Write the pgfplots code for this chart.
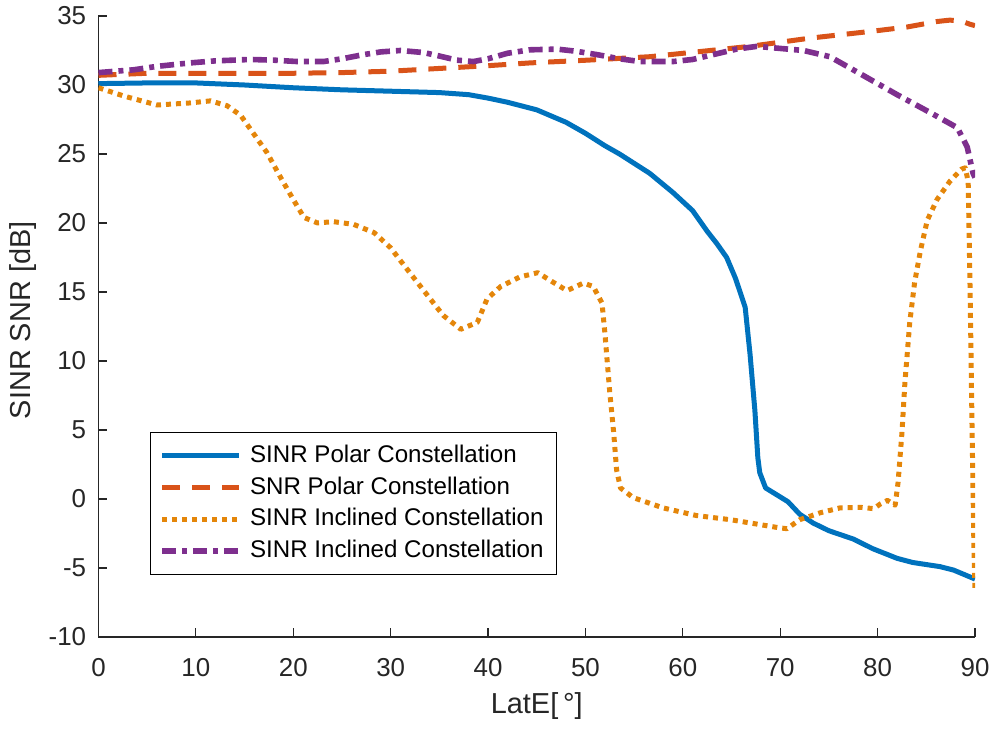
\documentclass[border=0pt]{standalone}
\usepackage{fontspec}
\setmainfont{Liberation Sans}
\usepackage{pgfplots}
\pgfplotsset{compat=1.18}
\usetikzlibrary{calc}
\definecolor{cBlue}{rgb}{0,0.447,0.741}
\definecolor{cRed}{rgb}{0.85,0.325,0.098}
\definecolor{cOrange}{RGB}{228,134,10}
\definecolor{cPurple}{rgb}{0.494,0.184,0.556}
\definecolor{axgray}{rgb}{0.15,0.15,0.15}
\begin{document}
\begin{tikzpicture}
\begin{axis}[
  scale only axis, width=438.25bp, height=310.5bp,
  xmin=0, xmax=90, ymin=-10, ymax=35,
  axis x line*=bottom, axis y line*=left,
  axis line style={-, axgray, line width=0.6bp},
  every tick/.style={axgray, line width=0.6bp},
  tick align=inside, major tick length=4.5bp,
  xtick={0,10,20,30,40,50,60,70,80,90},
  xticklabels={0,10,20,30,40,50,60,70,80,90},
  ytick={-10,-5,0,5,10,15,20,25,30,35},
  yticklabels={-10,-5,0,5,10,15,20,25,30,35},
  tick label style={font=\fontsize{13}{15}\selectfont, text=axgray, inner sep=0pt},
  xticklabel shift=10.5bp, yticklabel shift=6bp,
  xlabel={LatE[\,°]}, ylabel={SINR SNR [dB]},
  label style={font=\fontsize{14.5}{17}\selectfont, text=axgray},
  xlabel style={at={(axis description cs:0.5,-0.111)}, anchor=center},
  ylabel style={at={(axis description cs:-0.0856,0.51)}, anchor=center},
  legend cell align=left,
  legend style={at={(axis description cs:0.0588,0.330)}, anchor=north west,
    draw=black, line width=0.5bp, fill=white,
    font=\fontsize{12.1}{14}\selectfont,
    inner xsep=4.5bp, inner ysep=4.3bp, row sep=1bp,
    nodes={inner sep=2bp, text height=8.8bp, text depth=2bp},
    /tikz/every odd column/.append style={column sep=2bp}},
  legend image code/.code={\draw[#1] (0bp,0bp) -- (38.5bp,0bp);},
]
\addplot[cBlue, line width=2.5bp, line join=round] coordinates {
(0,30.1)(5,30.15)(10,30.15)(15,30.0)(20,29.8)(25,29.65)(30,29.55)(35,29.45)(38,29.3)(40,29.05)(42,28.75)(45,28.2)(48,27.3)(50,26.5)(52,25.6)(53.5,25.0)(56.6,23.6)(59,22.2)(61,20.9)(62.5,19.4)(63.5,18.5)(64.5,17.5)(65.4,16.0)(66.4,13.9)(66.9,10.5)(67.4,6.4)(67.7,3.0)(67.9,1.9)(68.5,0.8)(70,0.15)(70.8,-0.2)(72,-1.1)(73.4,-1.75)(75,-2.3)(77.5,-2.9)(79.5,-3.6)(82,-4.3)(83.6,-4.6)(86.4,-4.9)(87.8,-5.15)(90,-5.8)
};
\addlegendentry{SINR Polar Constellation}
\addplot[cRed, line width=2.5bp, dash pattern=on 9bp off 6bp, line join=round] coordinates {
(0,30.7)(5,30.85)(10,30.85)(15,30.85)(20,30.85)(25,30.9)(30,31.0)(35,31.2)(40,31.4)(44.3,31.6)(50.2,31.8)(56.6,32.05)(62.8,32.5)(66.9,32.8)(73.1,33.4)(79.5,33.9)(83,34.2)(86.1,34.6)(87.4,34.7)(88.5,34.65)(89.5,34.4)(90,34.3)
};
\addlegendentry{SNR Polar Constellation}
\addplot[cOrange, line width=2.5bp, dash pattern=on 2.5bp off 2.5bp, line join=round] coordinates {
(0,29.8)(2.6,29.2)(6,28.55)(9.4,28.7)(11.5,28.85)(13.2,28.5)(14.6,27.8)(15.9,26.5)(17.3,25.1)(18.7,23.3)(20,21.7)(21.1,20.4)(22.5,20.0)(24.1,20.1)(26.2,19.9)(28.3,19.3)(30,18.2)(31.3,17.0)(33.4,15.1)(35.4,13.3)(37.2,12.3)(38.9,12.8)(39.9,14.5)(41.3,15.4)(43.3,16.1)(45.1,16.4)(46.7,15.7)(48.1,15.1)(49.8,15.65)(50.8,15.4)(51.7,14.2)(52.0,12.0)(52.5,7.7)(52.9,4.8)(53.2,2.1)(53.6,0.8)(54.9,0.1)(58,-0.65)(61.4,-1.2)(64.9,-1.5)(68.3,-1.9)(70,-2.1)(70.7,-2.15)(72,-1.5)(74.1,-1.0)(76.1,-0.65)(78.2,-0.6)(79.6,-0.7)(80.3,-0.35)(81,-0.1)(81.8,-0.45)(82.1,1.2)(82.5,4.8)(82.8,8.4)(83.3,12.8)(83.8,15.7)(84.4,18.0)(85.1,20.2)(86.1,21.7)(87.4,23.0)(88.6,23.9)(89.0,24.0)(89.3,23.0)(89.5,15.0)(89.7,5)(89.9,-4)(90,-6.6)
};
\addlegendentry{SINR Inclined Constellation}
\addplot[cPurple, line width=2.8bp, dash pattern=on 7bp off 3bp on 2.5bp off 3bp, line join=round] coordinates {
(0,30.9)(3.6,31.1)(6,31.35)(9.4,31.6)(12,31.75)(15.6,31.85)(18,31.8)(20.4,31.7)(23.1,31.7)(25,31.9)(27.2,32.2)(29,32.4)(31,32.5)(33.4,32.35)(35,32.1)(36.8,31.8)(38.5,31.7)(40,31.9)(42,32.3)(44.3,32.55)(47.1,32.6)(49,32.45)(51.2,32.2)(53.5,31.9)(55.6,31.7)(59,31.7)(61,31.85)(63.1,32.2)(65.5,32.6)(67.6,32.8)(70,32.65)(72.4,32.5)(75.1,32.05)(78.5,30.7)(82,29.3)(85.4,28.0)(88.2,26.9)(89.2,25.5)(89.8,23.6)(90,23.3)
};
\addlegendentry{SINR Inclined Constellation}
\end{axis}
\pgfresetboundingbox
\path[use as bounding box] ($(current axis.south west)+(-49.25bp,-46bp)$) rectangle ($(current axis.north east)+(9.5bp,8bp)$);
\end{tikzpicture}
\end{document}
